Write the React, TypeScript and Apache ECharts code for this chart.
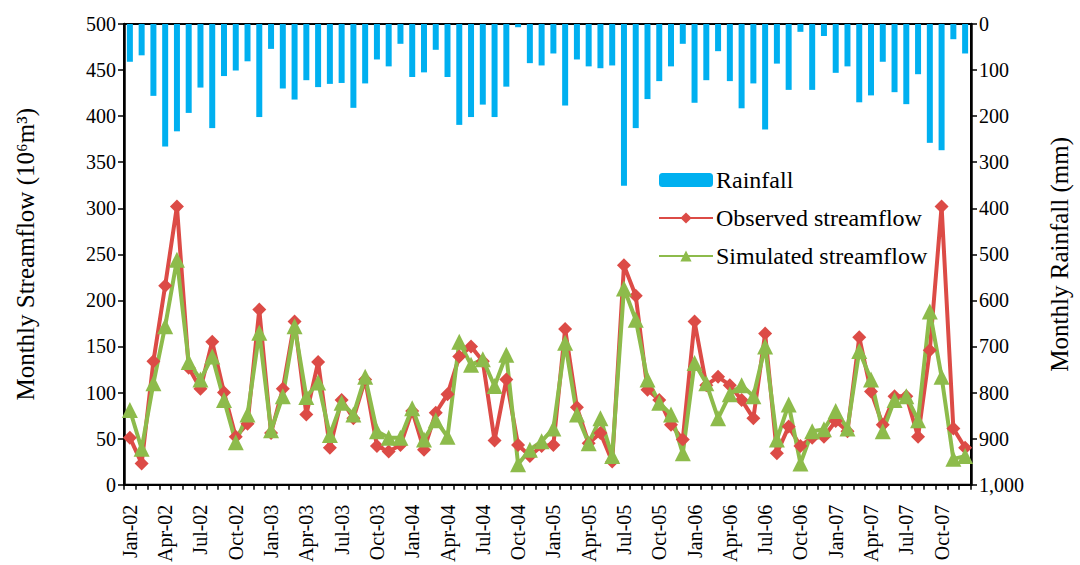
import React, { useEffect, useRef } from "react";
import * as echarts from "echarts";

const MONTHS = ["Jan", "Feb", "Mar", "Apr", "May", "Jun", "Jul", "Aug", "Sep", "Oct", "Nov", "Dec"];
const YEARS = ["02", "03", "04", "05", "06", "07"];
const categories = YEARS.flatMap((y) => MONTHS.map((m) => `${m}-${y}`));

// Monthly rainfall (mm), Jan-02 .. Dec-07
const rainfall = [
  82, 68, 156, 266, 233, 193, 138, 226, 113, 101, 81, 202,
  54, 140, 164, 122, 137, 130, 128, 182, 129, 77, 92, 43,
  115, 105, 56, 115, 219, 202, 175, 202, 136, 7, 85, 90,
  64, 177, 77, 92, 96, 90, 351, 226, 163, 124, 92, 43,
  171, 122, 59, 124, 183, 129, 229, 86, 143, 17, 143, 26,
  106, 92, 170, 155, 82, 148, 174, 109, 258, 274, 33, 64,
];

// Observed streamflow (10^6 m^3)
const observed = [
  51, 23, 134, 216, 302, 127, 104, 155, 100, 52, 66, 190,
  56, 104, 177, 76, 133, 40, 92, 72, 114, 42, 36, 43,
  80, 38, 78, 98, 139, 150, 134, 48, 114, 43, 31, 42,
  43, 169, 84, 45, 56, 25, 238, 205, 103, 92, 65, 49,
  177, 108, 117, 108, 92, 72, 164, 34, 63, 42, 51, 52,
  69, 58, 160, 101, 65, 96, 96, 52, 146, 302, 61, 40,
];

// Simulated streamflow (10^6 m^3)
const simulated = [
  81, 39, 110, 172, 244, 133, 114, 139, 92, 46, 76, 165,
  59, 96, 172, 95, 111, 54, 89, 76, 117, 58, 51, 51,
  83, 49, 70, 52, 155, 130, 136, 107, 141, 22, 38, 47,
  61, 154, 76, 45, 72, 31, 213, 179, 114, 89, 76, 34,
  132, 110, 72, 98, 108, 96, 150, 49, 87, 23, 58, 60,
  80, 61, 145, 114, 58, 92, 96, 70, 188, 117, 28, 31,
];

const FONT = "'Liberation Serif', 'Times New Roman', serif";

export default function App() {
  const ref = useRef<HTMLDivElement>(null);

  useEffect(() => {
    if (!ref.current) return;
    const chart = echarts.init(ref.current, null, { renderer: "svg" });
    chart.setOption({
      animation: false,
      backgroundColor: "#ffffff",
      textStyle: { fontFamily: FONT, color: "#000" },
      grid: {
        left: 124,
        right: 100,
        top: 24,
        bottom: 80,
        show: true,
        borderColor: "#000",
        borderWidth: 2,
        backgroundColor: "transparent",
      },
      legend: {
        orient: "vertical",
        left: 653,
        top: 162,
        itemWidth: 54,
        itemHeight: 14,
        itemGap: 12,
        textStyle: { fontFamily: FONT, fontSize: 24, color: "#000", lineHeight: 26, padding: [0, 0, 0, -2] },
        data: ["Rainfall", "Observed streamflow", "Simulated streamflow"],
      },
      xAxis: {
        type: "category",
        data: categories,
        boundaryGap: true,
        axisLine: { lineStyle: { color: "#000", width: 2 } },
        axisTick: { show: true, interval: 0, length: 5, lineStyle: { color: "#000", width: 1.5 } },
        axisLabel: {
          interval: 2,
          rotate: 90,
          margin: 20,
          fontFamily: FONT,
          fontSize: 20,
          color: "#000",
        },
        splitLine: { show: false },
      },
      yAxis: [
        {
          type: "value",
          min: 0,
          max: 500,
          interval: 50,
          name: "Monthly Streamflow (10\u2076m\u00b3)",
          nameLocation: "middle",
          nameRotate: 90,
          nameGap: 86,
          nameTextStyle: { fontFamily: FONT, fontSize: 25, color: "#000" },
          axisLine: { show: true, lineStyle: { color: "#000", width: 2.5 } },
          axisTick: { show: true, length: 6, lineStyle: { color: "#000", width: 1.5 } },
          axisLabel: { fontFamily: FONT, fontSize: 20, color: "#000", margin: 8 },
          splitLine: { show: false },
        },
        {
          type: "value",
          min: 0,
          max: 1000,
          interval: 100,
          inverse: true,
          position: "right",
          name: "Monthly Rainfall (mm)",
          nameLocation: "middle",
          nameRotate: 90,
          nameGap: 76,
          nameTextStyle: { fontFamily: FONT, fontSize: 25, color: "#000" },
          axisLine: { show: true, lineStyle: { color: "#000", width: 2.5 } },
          axisTick: { show: true, length: 6, lineStyle: { color: "#000", width: 1.5 } },
          axisLabel: {
            fontFamily: FONT,
            fontSize: 20,
            color: "#000",
            margin: 8,
            formatter: (v: number) => v.toLocaleString("en-US"),
          },
          splitLine: { show: false },
        },
      ],
      series: [
        {
          name: "Rainfall",
          type: "bar",
          yAxisIndex: 1,
          data: rainfall,
          barWidth: 6,
          itemStyle: { color: "#00B0F0" },
        },
        {
          name: "Observed streamflow",
          type: "line",
          yAxisIndex: 0,
          data: observed,
          symbol: "diamond",
          symbolSize: 14,
          showAllSymbol: true,
          lineStyle: { color: "#DC4B46", width: 4 },
          itemStyle: { color: "#DC4B46" },
        },
        {
          name: "Simulated streamflow",
          type: "line",
          yAxisIndex: 0,
          data: simulated,
          symbol: "triangle",
          symbolSize: 16,
          showAllSymbol: true,
          lineStyle: { color: "#8DBB4B", width: 4 },
          itemStyle: { color: "#8DBB4B" },
        },
      ],
    });
    return () => chart.dispose();
  }, []);

  return (
    <div
      ref={ref}
      style={{ position: "fixed", left: 0, top: 0, width: 1080, height: 565, background: "#fff" }}
    />
  );
}
